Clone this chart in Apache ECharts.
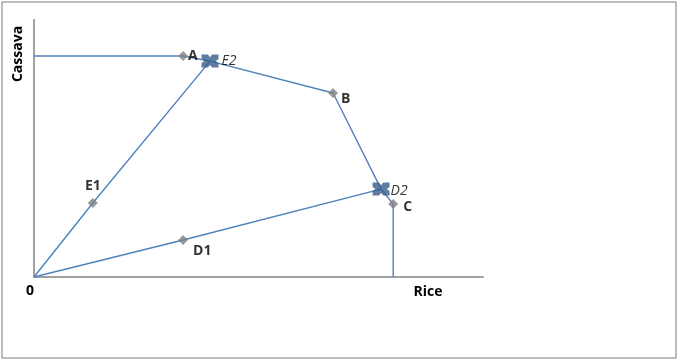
<!DOCTYPE html>
<html>
<head>
<meta charset="utf-8">
<script src="https://cdn.jsdelivr.net/npm/echarts@6/dist/echarts.min.js"></script>
<style>
html,body{margin:0;padding:0;background:#fff;}
#chart{width:680px;height:361px;}
</style>
</head>
<body>
<div id="chart"></div>
<script>
// Data (x = Rice, y = Cassava), arbitrary units
var frontier = [[0, 86], [33.2, 86], [39.2, 84], [66.6, 71.6], [77.3, 34.2], [80, 28.4], [80, 0]];
var rayE = [[0, 0], [13.1, 28.8], [39.2, 84]];
var rayD = [[0, 0], [33.2, 14.4], [77.3, 34.2]];
var diamondNames = ['A', 'B', 'C', 'E1', 'D1'];
var diamondPoints = [[33.2, 86], [66.6, 71.6], [80, 28.4], [13.1, 28.8], [33.2, 14.4]];
var crossNames = ['E2', 'D2'];
var crossPoints = [[39.2, 84], [77.3, 34.2]];
var xAxisLabel = 'Rice';
var yAxisLabel = 'Cassava';
var originLabel = '0';

var labelOffsets = {
  'A': {position: 'right', offset: [-3, 0]},
  'B': {position: 'right', offset: [0, 6]},
  'C': {position: 'right', offset: [2, 3]},
  'E1': {position: 'top', offset: [0, -2]},
  'D1': {position: 'right', offset: [2, 11]},
  'E2': {position: 'right', offset: [0, 0]},
  'D2': {position: 'right', offset: [-2, 2]}
};

var chart = echarts.init(document.getElementById('chart'), null, {renderer: 'canvas'});
var lineColor = '#4F81BD';
var fontFam = 'Open Sans, Liberation Sans, Arial, sans-serif';

var diamondData = diamondNames.map(function (n, i) {
  var lo = labelOffsets[n];
  return {value: diamondPoints[i], name: n,
    label: {show: true, formatter: n, position: lo.position, offset: lo.offset, distance: 3,
      fontWeight: 'bold', fontSize: 14, color: '#000', fontFamily: fontFam}};
});
var crossData = crossNames.map(function (n, i) {
  var lo = labelOffsets[n];
  return {value: crossPoints[i], name: n,
    label: {show: true, formatter: n, position: lo.position, offset: lo.offset, distance: 3,
      fontStyle: 'italic', fontSize: 14, color: '#000', fontFamily: fontFam}};
});

var crossPath = 'path://M0,0 L6,0 L8,2.5 L10,0 L16,0 L16,4 L13.5,6 L16,8 L16,12 L10,12 L8,9.5 L6,12 L0,12 L0,8 L2.5,6 L0,4 Z';

chart.setOption({
  animation: false,
  backgroundColor: '#fff',
  grid: {left: 34, top: 20, width: 449, height: 257, containLabel: false},
  xAxis: {type: 'value', min: 0, max: 100, interval: 50,
    axisLine: {show: true, lineStyle: {color: '#A0A0A0', width: 2}},
    axisTick: {show: false}, axisLabel: {show: false}, splitLine: {show: false}},
  yAxis: {type: 'value', min: 0, max: 100, interval: 50,
    axisLine: {show: true, lineStyle: {color: '#A0A0A0', width: 2}},
    axisTick: {show: false}, axisLabel: {show: false}, splitLine: {show: false}},
  series: [
    {type: 'line', data: frontier, showSymbol: false, symbol: 'none',
      lineStyle: {color: lineColor, width: 1.4}, z: 2},
    {type: 'line', data: rayE, showSymbol: false, symbol: 'none',
      lineStyle: {color: lineColor, width: 1.4}, z: 2},
    {type: 'line', data: rayD, showSymbol: false, symbol: 'none',
      lineStyle: {color: lineColor, width: 1.4}, z: 2},
    {type: 'scatter', data: diamondData, symbol: 'diamond', symbolSize: 10,
      itemStyle: {color: '#7F7F7F'}, z: 3},
    {type: 'scatter', data: crossData, symbol: crossPath, symbolSize: [17, 13],
      itemStyle: {color: '#385D8A'}, z: 4}
  ],
  graphic: [
    {type: 'rect', shape: {x: 2, y: 2, width: 674, height: 356},
      style: {fill: 'none', stroke: '#A6A6A6', lineWidth: 1.5}, z: -1, silent: true},
    {type: 'text', x: 30, y: 291, style: {text: originLabel, fontWeight: 'bold', fontSize: 14,
      fontFamily: fontFam, fill: '#000', textAlign: 'center', textVerticalAlign: 'middle'}},
    {type: 'text', x: 428, y: 292, style: {text: xAxisLabel, fontWeight: 'bold', fontSize: 14,
      fontFamily: fontFam, fill: '#000', textAlign: 'center', textVerticalAlign: 'middle'}},
    {type: 'text', x: 18, y: 54, rotation: Math.PI / 2, style: {text: yAxisLabel, fontWeight: 'bold', fontSize: 14,
      fontFamily: fontFam, fill: '#000', textAlign: 'center', textVerticalAlign: 'middle'}}
  ]
});
</script>
</body>
</html>
